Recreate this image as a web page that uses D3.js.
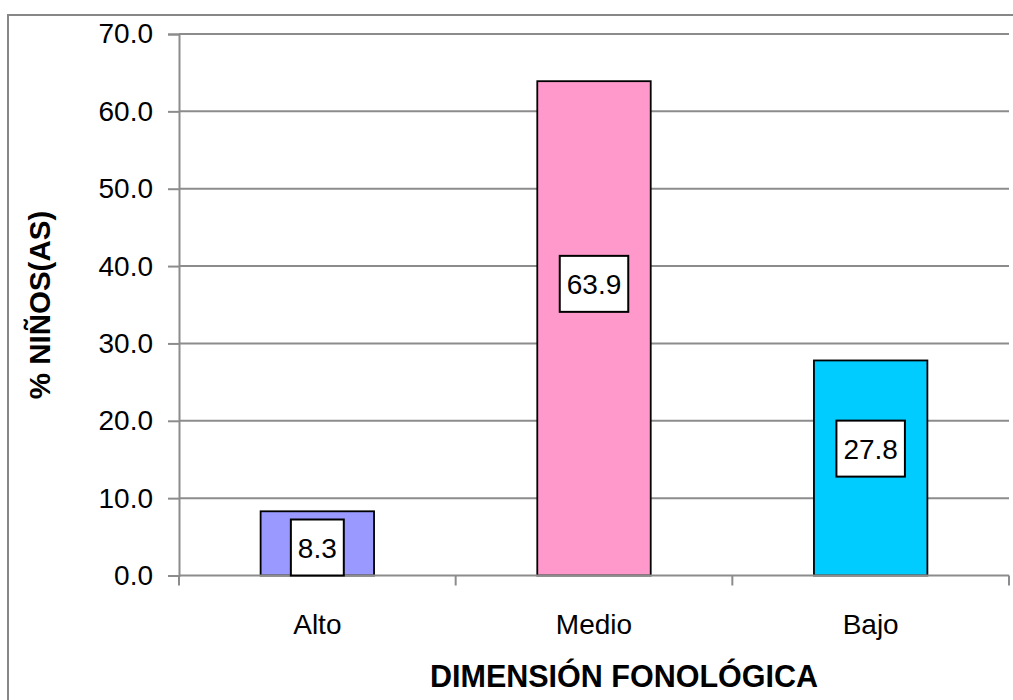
<!DOCTYPE html>
<html>
<head>
<meta charset="utf-8">
<script src="https://cdn.jsdelivr.net/npm/d3@7"></script>
<style>
  html, body { margin: 0; padding: 0; background: #fff; }
  svg { display: block; font-family: "Liberation Sans", Arial, sans-serif; }
</style>
</head>
<body>
<svg id="chart" width="1013" height="700"></svg>
<script>
// Nivel de la dimensión fonológica (% de niños y niñas)
const categories = ["Alto", "Medio", "Bajo"];
const values = [8.3, 63.9, 27.8];
const barColors = ["#9999FF", "#FF99CC", "#00CCFF"];
const yTicks = [0, 10, 20, 30, 40, 50, 60, 70];
const yTitle = "% NIÑOS(AS)";
const xTitle = "DIMENSIÓN FONOLÓGICA";

const svg = d3.select("#chart");
const plot = { left: 179, right: 1009, top: 34, bottom: 575.5 };

// outer chart frame
svg.append("rect")
  .attr("x", 8).attr("y", 15)
  .attr("width", 1100).attr("height", 800)
  .attr("fill", "#fff")
  .attr("stroke", "#878787").attr("stroke-width", 2);

const x = d3.scaleBand().domain(categories).range([plot.left, plot.right]).padding(0);
const y = d3.scaleLinear().domain([0, 70]).range([plot.bottom, plot.top]);

// horizontal gridlines
svg.append("g").selectAll("line")
  .data(yTicks.filter(t => t > 0))
  .join("line")
  .attr("x1", plot.left).attr("x2", plot.right)
  .attr("y1", d => y(d)).attr("y2", d => y(d))
  .attr("stroke", "#8c8c8c").attr("stroke-width", 2);

// y axis
const yAxis = svg.append("g")
  .attr("transform", `translate(${plot.left},0)`)
  .call(d3.axisLeft(y).tickValues(yTicks).tickFormat(d3.format(".1f")).tickSize(11).tickPadding(15));
yAxis.select(".domain").attr("stroke", "#8c8c8c").attr("stroke-width", 2);
yAxis.selectAll(".tick line").attr("stroke", "#8c8c8c").attr("stroke-width", 2);
yAxis.selectAll(".tick text")
  .attr("font-size", 28).attr("fill", "#000")
  .attr("font-family", "Liberation Sans, Arial, sans-serif");

// bars
const barW = x.bandwidth() * 0.41;
svg.append("g").selectAll("rect")
  .data(values)
  .join("rect")
  .attr("x", (d, i) => x(categories[i]) + (x.bandwidth() - barW) / 2)
  .attr("y", d => y(d))
  .attr("width", barW)
  .attr("height", d => y(0) - y(d))
  .attr("fill", (d, i) => barColors[i])
  .attr("stroke", "#000").attr("stroke-width", 1.8);

// x axis
const xAxis = svg.append("g")
  .attr("transform", `translate(0,${plot.bottom})`);
xAxis.append("line")
  .attr("x1", plot.left).attr("x2", plot.right)
  .attr("y1", 0).attr("y2", 0)
  .attr("stroke", "#8c8c8c").attr("stroke-width", 2);
const bounds = categories.map(c => x(c)).concat([x(categories[categories.length - 1]) + x.bandwidth()]);
xAxis.selectAll("line.tk")
  .data(bounds)
  .join("line").attr("class", "tk")
  .attr("x1", d => d).attr("x2", d => d)
  .attr("y1", 0).attr("y2", 10)
  .attr("stroke", "#8c8c8c").attr("stroke-width", 2);
xAxis.selectAll("text")
  .data(categories)
  .join("text")
  .attr("x", d => x(d) + x.bandwidth() / 2)
  .attr("y", 58)
  .attr("text-anchor", "middle")
  .attr("font-size", 28)
  .text(d => d);

// value labels in white boxes
const labels = svg.append("g");
values.forEach((v, i) => {
  const cx = x(categories[i]) + x.bandwidth() / 2;
  const boxH = 56;
  let cy = y(v * 0.59);
  // short bars: the box rests on the axis
  if (cy - boxH / 2 < y(v)) cy = y(0) - boxH / 2;
  const g = labels.append("g");
  const t = g.append("text")
    .attr("x", cx).attr("y", cy + 10)
    .attr("text-anchor", "middle")
    .attr("font-size", 28)
    .text(d3.format(".1f")(v));
  const w = t.node().getComputedTextLength() + 14;
  g.insert("rect", "text")
    .attr("x", cx - w / 2).attr("y", cy - boxH / 2)
    .attr("width", w).attr("height", boxH)
    .attr("fill", "#fff").attr("stroke", "#000").attr("stroke-width", 2);
});

// axis titles
svg.append("text")
  .attr("transform", "translate(50,305) rotate(-90)")
  .attr("text-anchor", "middle")
  .attr("font-size", 29.5).attr("font-weight", "bold")
  .text(yTitle);

svg.append("text")
  .attr("x", 624).attr("y", 687)
  .attr("text-anchor", "middle")
  .attr("font-size", 30.5).attr("font-weight", "bold")
  .text(xTitle);
</script>
</body>
</html>
